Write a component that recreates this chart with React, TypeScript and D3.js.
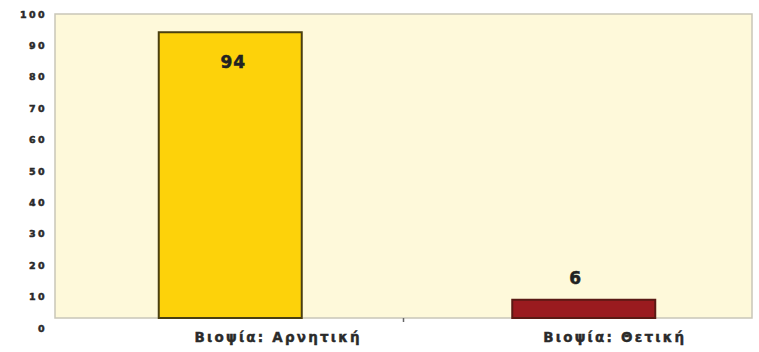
import React from "react";
import * as d3 from "d3";

const categories = ["Βιοψία: Αρνητική", "Βιοψία: Θετική"];
const values = [94, 6];
const barColors = ["#FDD20A", "#9A1B1F"];
const barStrokes = ["#4a3f10", "#5a1a14"];
const yTicks = [0, 10, 20, 30, 40, 50, 60, 70, 80, 90, 100];

const W = 759;
const H = 352;
const plot = { left: 55, right: 752, top: 14, bottom: 318 };
const FONT = "'DejaVu Sans', Verdana, sans-serif";

export default function App() {
  const x = d3
    .scaleBand<string>()
    .domain(categories)
    .range([plot.left, plot.right])
    .paddingInner(0.0)
    .paddingOuter(0);
  const y = d3.scaleLinear().domain([0, 100]).range([plot.bottom, plot.top]);
  const yLabel = d3.scaleLinear().domain([0, 100]).range([329, 15]);
  const barW = 143;

  return (
    <svg
      width={W}
      height={H}
      style={{ position: "absolute", left: 0, top: 0, background: "#fff" }}
      fontFamily={FONT}
    >
      <rect
        x={plot.left}
        y={plot.top}
        width={plot.right - plot.left}
        height={plot.bottom - plot.top}
        fill="#FEF9DA"
        stroke="#c9c6b8"
        strokeWidth={1.5}
      />
      {yTicks.map((t) => (
        <text
          key={t}
          x={47}
          y={yLabel(t)}
          textAnchor="end"
          dominantBaseline="middle"
          fontSize={9.5}
          fontWeight="bold"
          letterSpacing={2.4}
          fill="#2a2a2a"
          stroke="#2a2a2a"
          strokeWidth={0.5}
        >
          {t}
        </text>
      ))}
      <line
        x1={x(categories[1]) as number}
        x2={x(categories[1]) as number}
        y1={plot.bottom}
        y2={plot.bottom + 4}
        stroke="#666"
        strokeWidth={1.5}
      />
      {categories.map((c, i) => {
        const cx = (x(c) as number) + x.bandwidth() / 2 + (i === 0 ? 1 : 6);
        const v = values[i];
        return (
          <g key={c}>
            <rect
              x={cx - barW / 2}
              y={y(v)}
              width={barW}
              height={plot.bottom - y(v)}
              fill={barColors[i]}
              stroke={barStrokes[i]}
              strokeWidth={2}
            />
            <text
              x={cx + (i === 0 ? 3 : -8)}
              y={i === 0 ? y(v) + 31 : y(v) - 21}
              textAnchor="middle"
              dominantBaseline="middle"
              fontSize={17}
              fontWeight="bold"
              letterSpacing={1}
              fill="#222"
              stroke="#222"
              strokeWidth={0.5}
            >
              {v}
            </text>
            <text
              x={(x(c) as number) + x.bandwidth() / 2 + (i === 0 ? 49 : 37)}
              y={338}
              textAnchor="middle"
              dominantBaseline="middle"
              fontSize={13.5}
              fontWeight="bold"
              letterSpacing={2.2}
              fill="#2a2a2a"
              stroke="#2a2a2a"
              strokeWidth={0.4}
            >
              {c}
            </text>
          </g>
        );
      })}
    </svg>
  );
}
